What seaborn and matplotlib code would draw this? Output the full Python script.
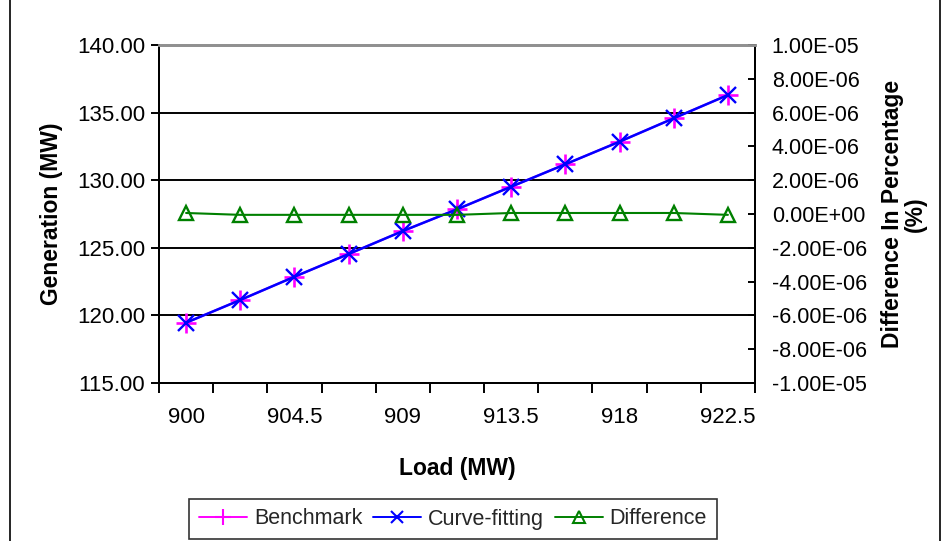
import matplotlib
matplotlib.use("Agg")
import matplotlib.pyplot as plt
from matplotlib.lines import Line2D
from matplotlib.ticker import FixedLocator, FuncFormatter
import seaborn as sns
import pandas as pd

# Load levels (MW)
load = [900.0, 902.25, 904.5, 906.75, 909.0, 911.25, 913.5, 915.75, 918.0, 920.25, 922.5]
# Generation of the unit (MW)
benchmark = [119.46, 121.14, 122.86, 124.54, 126.24, 127.85, 129.52, 131.18, 132.85, 134.58, 136.30]
curve_fitting = [119.46, 121.14, 122.86, 124.54, 126.24, 127.85, 129.52, 131.18, 132.85, 134.58, 136.30]
# Difference between the two methods (%)
difference = [6e-8, -5e-8, -5e-8, -5e-8, -5e-8, -5e-8, 6e-8, 6e-8, 6e-8, 6e-8, -5e-8]
# Labelled loads on the category axis
tick_labels = ["900", "904.5", "909", "913.5", "918", "922.5"]

df = pd.DataFrame({"load": load, "benchmark": benchmark,
                   "curve": curve_fitting, "diff": difference})

sns.set_theme(style="white")
plt.rcParams["font.family"] = ["Liberation Sans", "DejaVu Sans"]

fig = plt.figure(figsize=(9.47, 5.41), dpi=100)
ax = fig.add_axes([159 / 947, 1 - 383 / 541, (755 - 159) / 947, (383 - 45) / 541])
ax2 = ax.twinx()

step = 2.25
ax.set_xlim(load[0] - step / 2, load[-1] + step / 2)
ax.set_ylim(115, 140)
ax2.set_ylim(-1e-5, 1e-5)

# horizontal gridlines at left-axis majors
ax.set_yticks([115, 120, 125, 130, 135, 140])
for yv in [120, 125, 130, 135]:
    ax.axhline(yv, color="black", lw=1.4, zorder=0)

sns.lineplot(data=df, x="load", y="benchmark", ax=ax, color="#ff00ff", lw=1.6,
             marker="+", markersize=14, markeredgewidth=1.9, markeredgecolor="#ff00ff",
             zorder=3, legend=False)
sns.lineplot(data=df, x="load", y="curve", ax=ax, color="#0000ff", lw=1.8,
             marker="x", markersize=12, markeredgewidth=1.7, markeredgecolor="#0000ff",
             zorder=4, legend=False)
sns.lineplot(data=df, x="load", y="diff", ax=ax2, color="#008000", lw=1.5,
             marker="^", markersize=10, markerfacecolor="none", markeredgewidth=1.7,
             markeredgecolor="#008000", zorder=2, legend=False)

# category-style x axis: tick marks at boundaries, labels at every other point
boundaries = [load[0] - step / 2] + [v + step / 2 for v in load]
ax.xaxis.set_minor_locator(FixedLocator(boundaries))
ax.set_xticks(load[::2])
ax.set_xticklabels(tick_labels)
ax.tick_params(axis="x", which="major", length=0, pad=17, labelsize=16, colors="black")
ax.tick_params(axis="x", which="minor", length=7, width=1.4, color="black", direction="out", bottom=True)

ax.yaxis.set_major_formatter(FuncFormatter(lambda v, p: f"{v:.2f}"))
ax.tick_params(axis="y", length=6, width=1.4, color="black", direction="out", left=True,
               labelsize=16, pad=4, labelcolor="black")

ax2.set_yticks([i * 2e-6 for i in range(-5, 6)])
ax2.yaxis.set_major_formatter(FuncFormatter(lambda v, p: f"{v:.2E}"))
ax2.tick_params(axis="y", length=5, width=1.4, color="black", direction="in", right=True,
                labelsize=15.5, pad=12, labelcolor="black")

for a in (ax, ax2):
    for side in ("left", "right", "bottom"):
        a.spines[side].set_color("black")
        a.spines[side].set_linewidth(1.4)
    a.spines["top"].set_color("#909090")
    a.spines["top"].set_linewidth(2)

ax.set_xlabel("Load (MW)", fontsize=16.5, fontweight="bold", labelpad=21, color="black")
ax.set_ylabel("Generation (MW)", fontsize=16.5, fontweight="bold", labelpad=10, color="black")
ax2.set_ylabel("Difference In Percentage\n(%)", fontsize=16.5, fontweight="bold",
               labelpad=10, color="black", linespacing=1.0)

handles = [
    Line2D([], [], color="#ff00ff", lw=1.4, marker="+", markersize=12, markeredgewidth=1.5),
    Line2D([], [], color="#0000ff", lw=1.4, marker="x", markersize=9, markeredgewidth=1.5),
    Line2D([], [], color="#008000", lw=1.4, marker="^", markersize=8,
           markerfacecolor="none", markeredgewidth=1.5),
]
leg = fig.legend(handles, ["Benchmark", "Curve-fitting", "Difference"], ncol=3,
                 loc="center", bbox_to_anchor=(453 / 947, 1 - 519 / 541),
                 fontsize=15.5, frameon=True, fancybox=False, handlelength=2.25,
                 handletextpad=0.3, columnspacing=0.5, borderpad=0.45, borderaxespad=0)
leg.get_frame().set_edgecolor("black")
leg.get_frame().set_linewidth(1.2)

# outer chart border
fig.add_artist(Line2D([10 / 947, 10 / 947], [0, 1], color="black", lw=1.2))
fig.add_artist(Line2D([940 / 947, 940 / 947], [0, 1], color="black", lw=1.2))

fig.savefig("out.png", dpi=100)
